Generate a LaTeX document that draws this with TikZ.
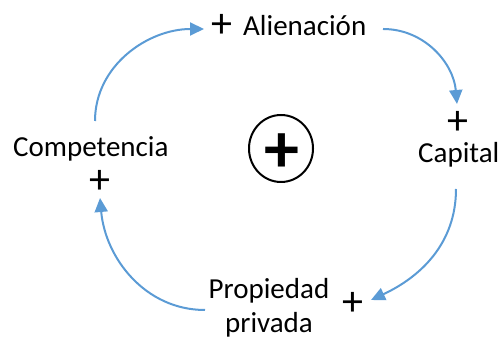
\documentclass[tikz,border=0pt]{standalone}
\usepackage{fontspec}
\setmainfont{Carlito}
\usetikzlibrary{arrows.meta,shapes.geometric}
\definecolor{lblue}{HTML}{5B9BD5}
\tikzset{
  lbl/.style={inner sep=0pt, font=\fontsize{29}{34}\selectfont},
  pl/.style={inner sep=0pt, font=\fontsize{42}{42}\selectfont},
  link/.style={draw=lblue, line width=2pt, -{Triangle[length=14pt,width=13pt]}}
}
\begin{document}
\begin{tikzpicture}[x=1pt,y=1pt]
\useasboundingbox (0,0) rectangle (501,339);
% variables
\node[lbl, anchor=base west] (alien) at (243,303) {Alienación};
\node[pl] (palien) at (222,313) {+};
\node[lbl, anchor=base west] (cap) at (418,176) {Capital};
\node[pl] (pcap) at (458,216) {+};
\node[lbl, anchor=base west] (comp) at (13,182) {Competencia};
\node[pl] (pcomp) at (100,157) {+};
\node[lbl, anchor=base, align=center] (prop) at (269,6) {Propiedad\\privada};
\node[pl] (pprop) at (353,35.5) {+};
% loop polarity
\node[draw, line width=2pt, ellipse, minimum width=64pt, minimum height=67pt, inner sep=0pt] (loop) at (281,190.5) {};
\node[inner sep=0pt, font=\bfseries\fontsize{70}{70}\selectfont] (lp) at (281.5,186) {+};
% connector ends
\coordinate (s1) at (95,218);
\coordinate (e1) at (204,310);
\coordinate (s2) at (383,310);
\coordinate (e2) at (457,235);
\coordinate (s3) at (456,150);
\coordinate (e3) at (371,39);
\coordinate (s4) at (205,29);
\coordinate (e4) at (100,141);
\draw[link] (s1) to[out=90, in=180] (e1);
\draw[link] (s2) to[out=0, in=95] (e2);
\draw[link] (s3) to[out=-90, in=25] (e3);
\draw[link] (s4) to[out=180, in=-85] (e4);
\end{tikzpicture}
\end{document}
